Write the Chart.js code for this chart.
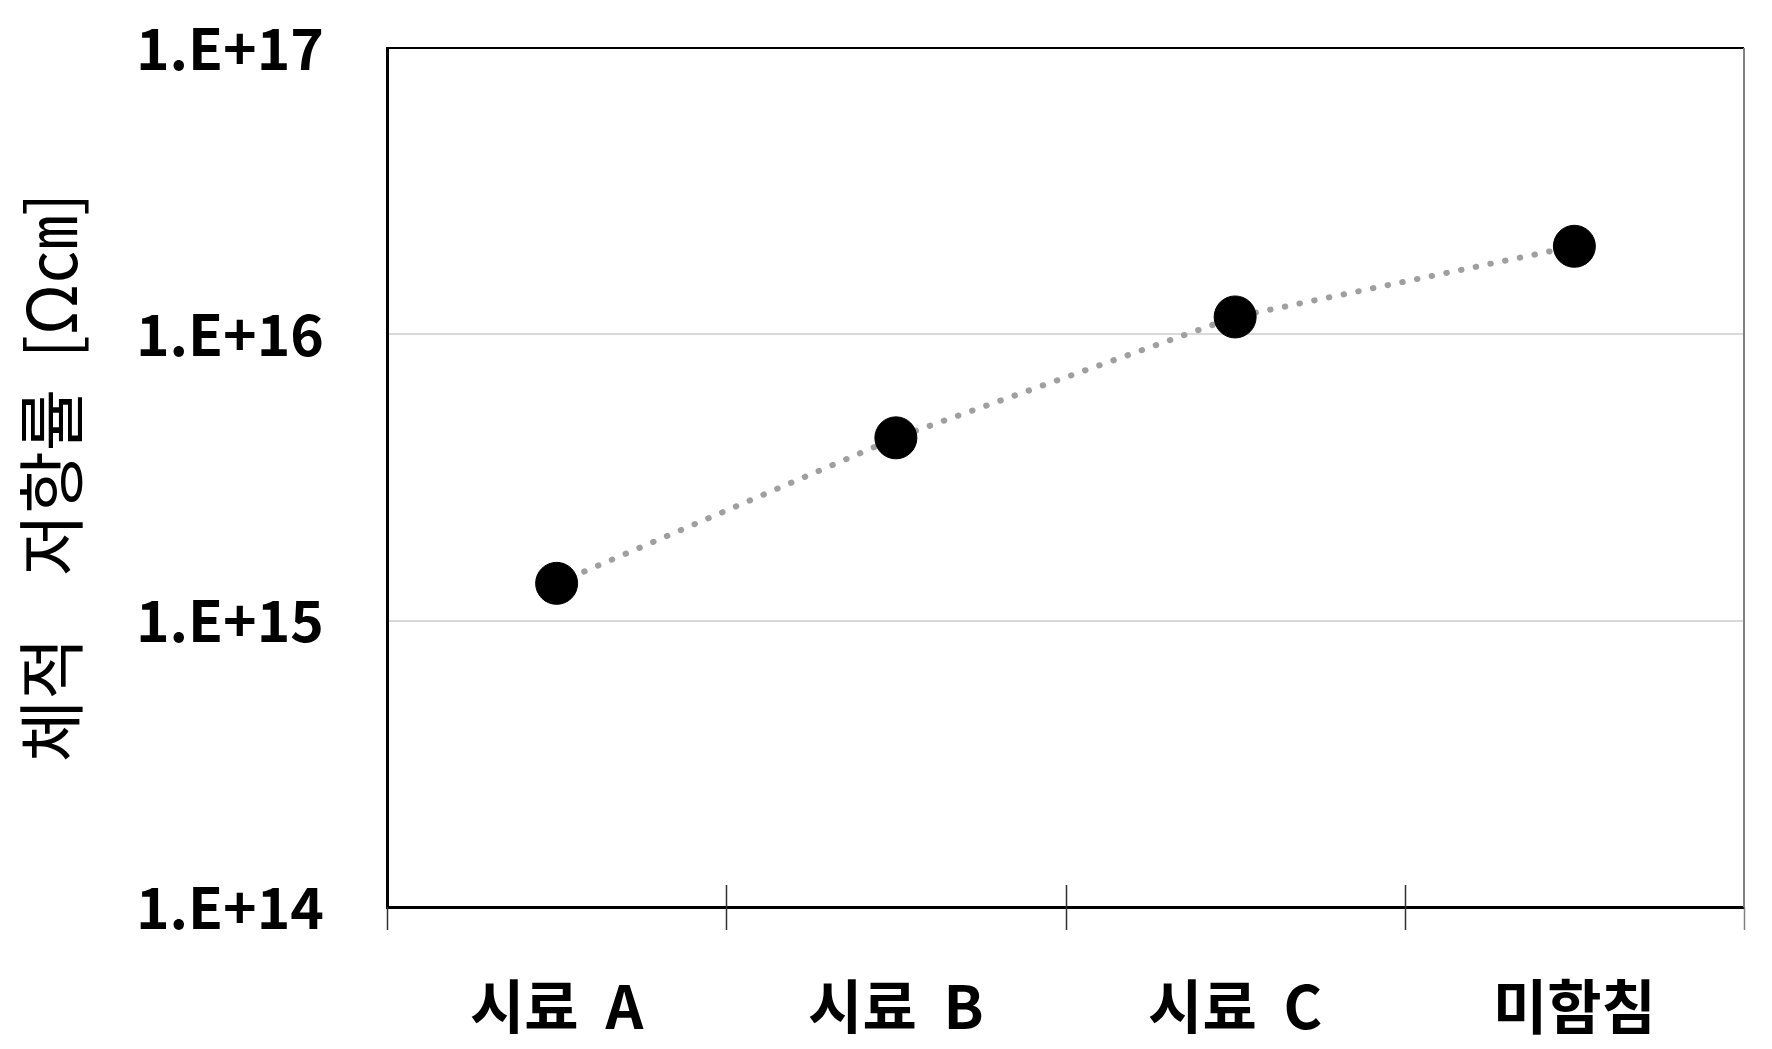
<!DOCTYPE html>
<html>
<head>
<meta charset="utf-8">
<script src="https://cdn.jsdelivr.net/npm/chart.js@4/dist/chart.umd.min.js"></script>
<style>
  body { margin: 0; background: #fff; }
  #wrap { width: 1772px; height: 1049px; }
</style>
</head>
<body>
<div id="wrap"><canvas id="resistChart"></canvas></div>
<script>
// 데이터
const categories = ['시료 A', '시료 B', '시료 C', '미함침'];
const resistivity = [1.35e15, 4.35e15, 1.15e16, 2.03e16];
const yTickValues = [1e14, 1e15, 1e16, 1e17];
const yTickLabels = ['1.E+14', '1.E+15', '1.E+16', '1.E+17'];

const KR_FONT = "'Noto Sans CJK KR', 'Noto Sans', sans-serif";

// 위쪽/오른쪽 테두리와 x축 교차 눈금
const frameTicks = {
  id: 'frameTicks',
  afterDraw(chart) {
    const { ctx, chartArea } = chart;
    const { left, right, top, bottom } = chartArea;
    ctx.save();
    // 위쪽 테두리
    ctx.strokeStyle = '#000';
    ctx.lineWidth = 2;
    ctx.beginPath();
    ctx.moveTo(left, top);
    ctx.lineTo(right, top);
    ctx.stroke();
    // 오른쪽 테두리
    ctx.strokeStyle = '#808080';
    ctx.beginPath();
    ctx.moveTo(right, top);
    ctx.lineTo(right, bottom);
    ctx.stroke();
    // 교차 눈금
    const n = categories.length;
    const step = (right - left) / n;
    ctx.lineWidth = 1.5;
    for (let i = 0; i <= n; i++) {
      const x = Math.round(left + i * step) + 0.5;
      ctx.strokeStyle = i === n ? '#808080' : '#303030';
      ctx.beginPath();
      ctx.moveTo(x, i === 0 || i === n ? bottom : bottom - 22);
      ctx.lineTo(x, bottom + 23);
      ctx.stroke();
    }
    ctx.restore();
  }
};

const ctx = document.getElementById('resistChart').getContext('2d');

new Chart(ctx, {
  type: 'line',
  data: {
    labels: categories,
    datasets: [
      {
        label: '체적 저항률',
        data: resistivity,
        borderColor: '#9f9f9f',
        borderWidth: 6,
        borderDash: [0.5, 14.5],
        borderCapStyle: 'round',
        pointRadius: 21,
        pointHoverRadius: 21,
        pointBackgroundColor: '#000',
        pointBorderColor: '#000',
        pointBorderWidth: 1,
        tension: 0,
      },
    ],
  },
  options: {
    responsive: true,
    maintainAspectRatio: false,
    animation: false,
    layout: {
      padding: { top: 48, right: 28, left: 0, bottom: 0 },
    },
    plugins: {
      legend: { display: false },
      tooltip: { enabled: false },
    },
    scales: {
      x: {
        type: 'category',
        offset: true,
        grid: { display: false, drawTicks: false },
        border: { color: '#000', width: 3 },
        ticks: {
          color: '#000',
          padding: 64,
          font: { family: KR_FONT, size: 59, weight: 'bold' },
          maxRotation: 0,
          callback: (value, i) => categories[i].replace(' ', '  '),
        },
        afterFit(scale) {
          scale.height = 142;
        },
      },
      y: {
        type: 'logarithmic',
        min: 1e14,
        max: 1e17,
        afterBuildTicks(scale) {
          scale.ticks = yTickValues.map((v) => ({ value: v }));
        },
        afterFit(scale) {
          scale.width = 387;
          scale.paddingTop = 0;
          scale.paddingBottom = 0;
        },
        grid: {
          drawTicks: false,
          lineWidth: 2,
          color: (c) =>
            c.tick && (c.tick.value === 1e15 || c.tick.value === 1e16)
              ? '#d9d9d9'
              : 'rgba(0,0,0,0)',
        },
        border: { color: '#000', width: 3 },
        ticks: {
          color: '#000',
          padding: 63,
          font: { family: KR_FONT, size: 57, weight: 'bold' },
          callback: (value) => {
            const i = yTickValues.indexOf(value);
            return i >= 0 ? yTickLabels[i] : '';
          },
        },
        title: {
          display: true,
          text: '체적    저항률  [Ω㎝]',
          color: '#000',
          padding: { top: 10, bottom: 0 },
          font: { family: KR_FONT, size: 68, weight: 'normal' },
        },
      },
    },
  },
  plugins: [frameTicks],
});
</script>
</body>
</html>
